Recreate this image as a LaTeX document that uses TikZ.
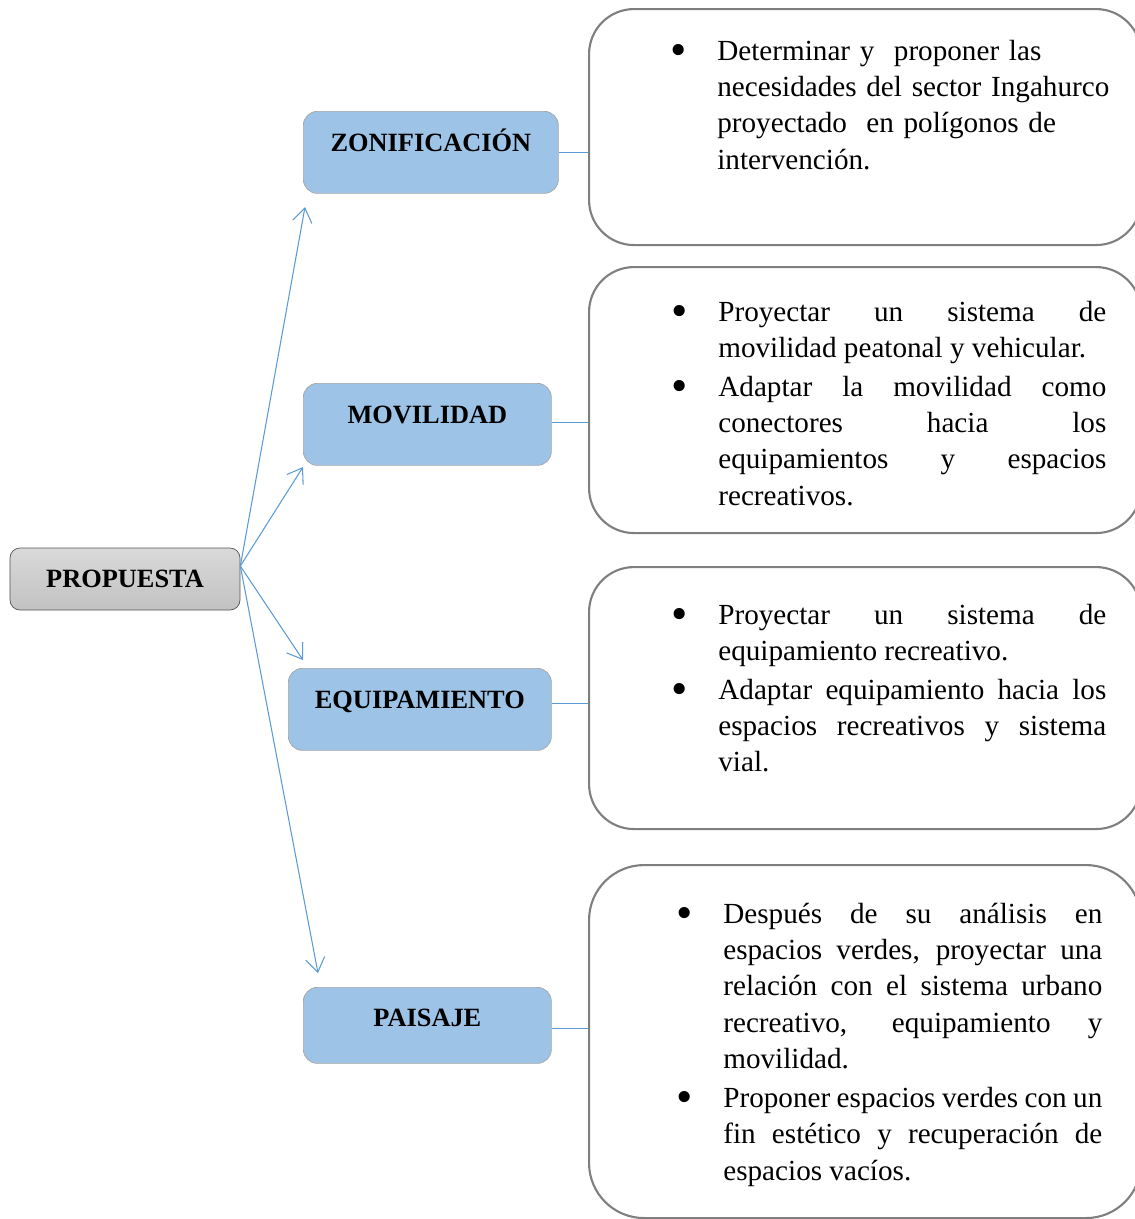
\documentclass[tikz,border=0pt]{standalone}
\usepackage{fontspec}
\setmainfont{Liberation Serif}
\usepackage{xcolor}
\usetikzlibrary{arrows.meta, positioning}

\definecolor{topicblue}{HTML}{9DC3E6}
\definecolor{topicline}{HTML}{A6A6A6}
\definecolor{rootlight}{HTML}{D9D9D9}
\definecolor{rootdark}{HTML}{C2C2C2}
\definecolor{rootline}{HTML}{555555}
\definecolor{panelline}{HTML}{7F7F7F}
\definecolor{linkblue}{HTML}{5B9BD5}

\hyphenpenalty=10000
\exhyphenpenalty=10000
\newcommand{\bitem}{\leavevmode\llap{\makebox[0.94cm][l]{\raisebox{-3pt}{\scalebox{1.6}{\textbullet}}}}}

\begin{document}
\begin{tikzpicture}[
  root/.style={rectangle, draw=rootline, top color=rootlight, bottom color=rootdark,
    rounded corners=0.2cm, minimum width=4.6cm, minimum height=1.24cm,
    font=\bfseries\fontsize{15}{18}\selectfont},
  topic/.style={rectangle, draw=topicline, fill=topicblue, rounded corners=0.28cm,
    anchor=north west, inner xsep=0pt, inner ysep=0pt, text height=0.8cm, text depth=0.84cm,
    font=\bfseries\fontsize{15}{18}\selectfont},
  panel/.style={rectangle, draw=panelline, line width=1.2pt, rounded corners=0.9cm,
    anchor=north west, minimum width=11.04cm},
  notes/.style={anchor=base west, inner sep=0pt, text width=7.76cm, align=justify,
    font=\fontsize{16.6}{20.7}\selectfont},
  arrow/.style={-{Straight Barb[length=8pt, width=11pt]}, line width=0.6pt, linkblue},
  link/.style={line width=0.6pt, linkblue},
]
\useasboundingbox (0,0) rectangle (22.7,-24.38);
\clip (0,0) rectangle (22.7,-24.38);

% left column
\node[root] (prop) at (2.5,-11.58) {PROPUESTA};

\node[topic, minimum width=5.1cm] (zon) at (6.06,-2.22) {ZONIFICACIÓN};
\node[topic, minimum width=4.96cm] (mov) at (6.06,-7.66) {MOVILIDAD};
\node[topic, minimum width=5.26cm] (equ) at (5.76,-13.36) {EQUIPAMIENTO};
\node[topic, minimum width=4.96cm, text height=0.78cm, text depth=0.74cm] (pai) at (6.06,-19.74) {PAISAJE};

% right column
\node[panel, minimum height=4.72cm] (box1) at (11.76,-0.16) {};
\node[panel, minimum height=5.32cm] (box2) at (11.76,-5.32) {};
\node[panel, minimum height=5.24cm] (box3) at (11.76,-11.32) {};
\node[panel, minimum height=7.06cm, rounded corners=1.1cm] (box4) at (11.76,-17.28) {};

\node[notes, text width=8.2cm, align=left] (txt1) at (14.34,-1.2) {\bitem Determinar y~ proponer las\\
  necesidades del sector Ingahurco\\
  proyectado~ en polígonos de\\
  intervención.};
\node[notes] (txt2) at (14.36,-6.42) {\bitem Proyectar un sistema de \linebreak movilidad peatonal y vehicular.\par\vspace{1.4pt}
  \bitem Adaptar la movilidad como \linebreak conectores hacia los \linebreak equipamientos y espacios \linebreak recreativos.};
\node[notes] (txt3) at (14.36,-12.48) {\bitem Proyectar un sistema de \linebreak equipamiento recreativo.\par\vspace{1.4pt}
  \bitem Adaptar equipamiento hacia los \linebreak espacios recreativos y sistema \linebreak vial.};
\node[notes, text width=7.58cm] (txt4) at (14.46,-18.46) {\bitem Después de su análisis en \linebreak espacios verdes, proyectar una \linebreak relación con el sistema urbano \linebreak recreativo, equipamiento y \linebreak movilidad.\par\vspace{1.4pt}
  \bitem Proponer espacios verdes con un \linebreak fin estético y recuperación de \linebreak espacios vacíos.};

\draw[link] (zon.east) -- (zon.east -| box1.west);
\draw[link] ([yshift=0.04cm]mov.east) -- ([yshift=0.04cm]mov.east -| box2.west);
\draw[link] ([yshift=0.12cm]equ.east) -- ([yshift=0.12cm]equ.east -| box3.west);
\draw[link] ([yshift=-0.06cm]pai.east) -- ([yshift=-0.06cm]pai.east -| box4.west);

% fan of arrows
\coordinate (hub) at ([yshift=0.26cm]prop.east);
\coordinate (zon-in) at (6.1,-4.14);
\coordinate (mov-in) at (6.06,-9.34);
\coordinate (equ-in) at (6.06,-13.2);
\coordinate (pai-in) at (6.36,-19.46);
\draw[arrow] (hub) -- (zon-in);
\draw[arrow] (hub) -- (mov-in);
\draw[arrow] (hub) -- (equ-in);
\draw[arrow] (hub) -- (pai-in);
\end{tikzpicture}
\end{document}
